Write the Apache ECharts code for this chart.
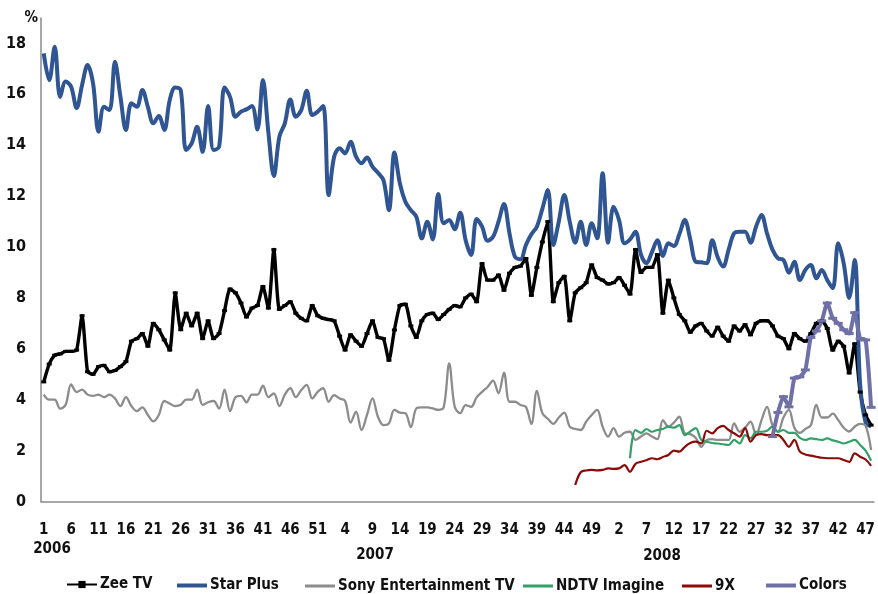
<!DOCTYPE html>
<html>
<head>
<meta charset="utf-8">
<script src="https://cdn.jsdelivr.net/npm/echarts@6/dist/echarts.min.js"></script>
<style>
  html, body { margin: 0; padding: 0; background: #ffffff; }
  #chart { width: 878px; height: 594px; }
</style>
</head>
<body>
<div id="chart"></div>
<script>
// Week numbers per year (2008 runs to week 48)
const weeks2006 = [1,2,3,4,5,6,7,8,9,10,11,12,13,14,15,16,17,18,19,20,21,22,23,24,25,26,27,28,29,30,31,32,33,34,35,36,37,38,39,40,41,42,43,44,45,46,47,48,49,50,51,52];
const weeks2007 = [1,2,3,4,5,6,7,8,9,10,11,12,13,14,15,16,17,18,19,20,21,22,23,24,25,26,27,28,29,30,31,32,33,34,35,36,37,38,39,40,41,42,43,44,45,46,47,48,49,50,51,52];
const weeks2008 = [1,2,3,4,5,6,7,8,9,10,11,12,13,14,15,16,17,18,19,20,21,22,23,24,25,26,27,28,29,30,31,32,33,34,35,36,37,38,39,40,41,42,43,44,45,46,47,48];
const yearLabels = ['2006', '2007', '2008'];
const channelNames = ['Zee TV', 'Star Plus', 'Sony Entertainment TV', 'NDTV Imagine', '9X', 'Colors'];

// Weekly channel share, %
const zee2006 = [4.7,5.4,5.75,5.8,5.9,5.9,5.95,7.3,5.1,5.0, 5.3,5.35,5.1,5.15,5.3,5.5,6.3,6.4,6.6,6.1, 7.0,6.75,6.35,5.95,8.2,6.75,7.4,6.9,7.4,6.4, 7.1,6.4,6.6,7.5,8.35,8.2,7.8,7.25,7.6,7.7, 8.45,7.6,9.9,7.55,7.7,7.85,7.4,7.2,7.1,7.7, 7.3,7.2];
const zee2007 = [7.15,7.1,6.5,5.95,6.55,6.3,6.1,6.6,7.1,6.45, 6.4,5.55,6.74,7.7,7.75,6.9,6.45,7.1,7.35,7.4, 7.15,7.35,7.55,7.7,7.65,8.0,8.15,7.85,9.35,8.7, 8.7,8.9,8.3,8.97,9.2,9.25,9.55,8.1,9.2,10.2, 11.0,7.85,8.6,8.85,7.1,8.2,8.4,8.6,9.3,8.8, 8.7,8.55];
const zee2008 = [8.6,8.8,8.5,8.15,9.9,9.0,9.2,9.2,9.7,7.4, 8.7,8.0,7.35,7.1,6.65,6.9,7.0,6.7,6.5,6.85, 6.5,6.3,6.9,6.7,6.95,6.55,7.0,7.1,7.1,6.9, 6.5,6.4,6.0,6.6,6.4,6.3,6.6,7.0,7.1,6.8, 5.95,6.3,6.1,5.05,6.2,4.3,3.4,3.0];

const star2006 = [17.61,16.56,17.87,15.9,16.5,16.3,15.46,16.37,17.15,16.43, 14.53,15.51,15.38,17.28,15.9,14.6,15.65,15.51,16.17,15.51, 14.86,15.15,14.6,15.78,16.27,16.17,13.81,14.07,14.73,13.74, 15.54,13.81,13.94,16.27,15.9,15.12,15.32,15.41,15.54,14.62, 16.56,14.5,12.79,14.33,14.86,15.8,15.12,15.38,16.14,15.19, 15.32,15.54];
const star2007 = [12.04,13.55,13.88,13.68,14.14,13.55,13.29,13.52,13.16,12.92, 12.63,11.45,13.71,12.5,11.78,11.45,11.19,10.34,10.99,10.3, 12.08,10.93,11.06,10.7,11.35,10.27,9.69,11.1,10.8,10.25, 10.4,11.0,11.69,10.54,9.62,9.52,10.08,10.5,10.8,11.5, 12.24,10.08,11.0,12.04,11.0,10.17,10.99,10.08,10.93,10.34, 12.9,10.17];
const star2008 = [11.58,11.06,10.15,10.3,10.6,9.7,9.36,9.8,10.27,9.65, 10.15,10.04,10.5,11.06,10.3,9.42,9.4,9.36,10.27,9.6, 9.23,9.9,10.54,10.6,10.6,10.17,10.8,11.26,10.54,9.9, 9.56,9.49,8.99,9.42,8.7,9.1,9.29,8.77,9.1,8.7, 8.38,10.15,9.36,8.0,9.49,4.6,3.1,2.95];

const sony2006 = [4.2,4.0,4.0,3.65,3.8,4.6,4.3,4.4,4.2,4.15, 4.2,4.1,4.2,4.05,3.75,4.1,3.75,3.55,3.7,3.4, 3.15,3.4,3.95,3.85,3.75,3.8,4.0,4.0,4.4,3.8, 3.9,3.95,3.65,4.4,3.55,4.1,4.15,3.9,4.2,4.2, 4.55,4.1,4.25,3.75,4.2,4.45,4.1,4.38,4.58,4.05, 4.31,4.45];
const sony2007 = [3.92,4.18,4.05,3.95,3.1,3.53,2.81,3.4,4.05,3.33, 3.0,3.07,3.6,3.49,3.47,2.92,3.66,3.7,3.7,3.66, 3.6,3.7,5.43,3.72,3.47,3.79,3.72,4.09,4.31,4.5, 4.75,4.25,5.06,3.92,3.92,3.79,3.72,3.05,4.35,3.47, 3.25,3.05,3.3,3.49,2.94,2.85,2.81,3.14,3.4,3.6, 2.94,2.55];
const sony2008 = [2.88,2.55,2.7,2.74,2.42,2.55,2.68,2.55,2.45,3.2, 2.94,3.1,3.33,2.68,2.65,2.5,2.15,2.42,2.45,2.42, 2.42,2.42,3.07,2.74,2.9,3.14,2.61,3.2,3.72,3.0, 2.74,3.3,3.6,2.9,2.7,2.85,3.0,3.8,3.3,3.3, 3.45,3.2,2.9,2.75,2.94,3.05,2.97,2.02];

// Later launches: values start at the given week
const ndtvStartWeek2008 = 4;
const ndtv2008 = [1.7,2.81,2.7,2.85,2.74,2.81,2.85,2.94,2.9,3.0, 2.61,2.75,2.88,2.42,2.35,2.3,2.28,2.25,2.22,2.42, 2.28,2.61,2.48,2.74,2.74,2.78,2.94,2.74,2.81,2.7, 2.7,2.5,2.42,2.48,2.45,2.42,2.48,2.4,2.35,2.28, 2.35,2.42,2.22,2.0,1.6];
const nineXStartWeek2007 = 46;
const nineX2007 = [0.65,1.15,1.22,1.24,1.22,1.24,1.3];
const nineX2008 = [1.28,1.3,1.43, 1.17,1.48,1.56,1.62,1.7,1.66,1.75,1.83,2.0,1.96, 2.15,2.3,2.35,2.28,2.78,2.68,2.88,2.97,2.81,2.68, 2.55,2.88,2.35,2.61,2.65,2.61,2.61,2.61,2.42,2.15, 2.42,1.96,1.85,1.8,1.76,1.72,1.7,1.7,1.7,1.63, 1.56,1.89,1.76,1.65,1.4];
const colorsStartWeek2008 = 30;
const colors2008 = [2.55,3.5,4.12,3.72,4.85,4.9,5.17,6.45,6.7,7.1,7.8,7.2,7.0,6.75,6.6,7.42,6.4,6.35,3.7];

// Build the category axis (one entry per week) and padded series
const categories = []
  .concat(weeks2006.map(w => '2006-' + w))
  .concat(weeks2007.map(w => '2007-' + w))
  .concat(weeks2008.map(w => '2008-' + w));
const n = categories.length;
const off2007 = weeks2006.length;
const off2008 = weeks2006.length + weeks2007.length;

function padded(parts) {
  const out = new Array(n).fill(null);
  parts.forEach(([start, vals]) => vals.forEach((v, k) => { out[start + k] = v; }));
  return out;
}

const zee = zee2006.concat(zee2007, zee2008);
const star = star2006.concat(star2007, star2008);
const sony = sony2006.concat(sony2007, sony2008);
const ndtv = padded([[off2008 + ndtvStartWeek2008 - 1, ndtv2008]]);
const nineX = padded([[off2007 + nineXStartWeek2007 - 1, nineX2007], [off2008, nineX2008]]);
const colorsCh = padded([[off2008 + colorsStartWeek2008 - 1, colors2008]]);

const FONT = "'DejaVu Sans Condensed', 'Liberation Sans', sans-serif";
const INK = '#111111';
const palette = ['#000000', '#2f5592', '#8c8c8c', '#33a068', '#8b0a0a', '#7070a8'];

const chart = echarts.init(document.getElementById('chart'), null, { renderer: 'canvas' });

function lineSeries(name, data, color, width, extra) {
  return Object.assign({
    name: name,
    type: 'line',
    data: data,
    smooth: 0.35,
    symbol: 'none',
    connectNulls: false,
    animation: false,
    lineStyle: { color: color, width: width },
    itemStyle: { color: color },
    emphasis: { disabled: true }
  }, extra || {});
}

// One legend block per channel so each key sits at its own slot.
// Zee TV keeps its line-with-marker key; the others show a plain bar of line colour.
const legendSlots = [66, 177, 305, 523, 682, 766];
const keyThickness = [null, 4, 3, 3, 3, 4];
const legends = channelNames.map((nm, k) => {
  const plain = keyThickness[k] !== null;
  return {
    data: plain ? [{ name: nm, icon: 'rect' }] : [nm],
    left: legendSlots[k],
    top: plain ? 584 - keyThickness[k] / 2 - 4 : 577,
    padding: 0,
    itemWidth: 30,
    itemHeight: plain ? keyThickness[k] : 9,
    itemGap: 0,
    selectedMode: false,
    itemStyle: plain ? { color: palette[k], borderWidth: 0 } : undefined,
    textStyle: { color: INK, fontFamily: FONT, fontWeight: 'bold', fontSize: 15, padding: [0, 0, 0, -2] }
  };
});

chart.setOption({
  backgroundColor: '#ffffff',
  animation: false,
  textStyle: { fontFamily: FONT },
  grid: { left: 41, right: 2, top: 18, bottom: 92.5, containLabel: false },
  xAxis: {
    type: 'category',
    data: categories,
    boundaryGap: true,
    axisLine: { show: true, lineStyle: { color: '#8a8a8a', width: 1.5 } },
    axisTick: { show: false },
    splitLine: { show: false },
    axisLabel: {
      interval: 4,
      margin: 21,
      color: INK,
      fontFamily: FONT,
      fontWeight: 'bold',
      fontSize: 15,
      formatter: v => v.split('-')[1]
    }
  },
  yAxis: {
    type: 'value',
    min: 0,
    max: 19,
    interval: 2,
    name: '%',
    nameLocation: 'end',
    nameGap: 0,
    nameTextStyle: {
      color: INK, fontFamily: FONT, fontWeight: 'bold', fontSize: 15,
      align: 'right', verticalAlign: 'middle', padding: [0, 3, 0, 0]
    },
    axisLine: { show: true, lineStyle: { color: '#8a8a8a', width: 1.5 } },
    axisTick: { show: false },
    splitLine: { show: false },
    axisLabel: {
      margin: 15,
      color: INK,
      fontFamily: FONT,
      fontWeight: 'bold',
      fontSize: 16,
      formatter: v => (v % 2 === 0 ? String(v) : '')
    }
  },
  legend: legends,
  graphic: [
    { type: 'text', x: 52, y: 549, style: { text: yearLabels[0], font: 'bold 15px ' + FONT, fill: INK, align: 'center', verticalAlign: 'middle' } },
    { type: 'text', x: 375, y: 555, style: { text: yearLabels[1], font: 'bold 15px ' + FONT, fill: INK, align: 'center', verticalAlign: 'middle' } },
    { type: 'text', x: 662, y: 556, style: { text: yearLabels[2], font: 'bold 15px ' + FONT, fill: INK, align: 'center', verticalAlign: 'middle' } }
  ],
  series: [
    lineSeries(channelNames[0], zee, palette[0], 3.4, {
      smooth: 0.2,
      symbol: 'rect', symbolSize: [5, 3], showSymbol: true,
      itemStyle: { color: palette[0] }
    }),
    lineSeries(channelNames[1], star, palette[1], 4),
    lineSeries(channelNames[2], sony, palette[2], 2.3),
    lineSeries(channelNames[3], ndtv, palette[3], 2.2),
    lineSeries(channelNames[4], nineX, palette[4], 2.2),
    lineSeries(channelNames[5], colorsCh, palette[5], 4, {
      smooth: 0.2,
      symbol: 'rect', symbolSize: [9, 3], showSymbol: true,
      itemStyle: { color: palette[5] }
    })
  ]
});
</script>
</body>
</html>
